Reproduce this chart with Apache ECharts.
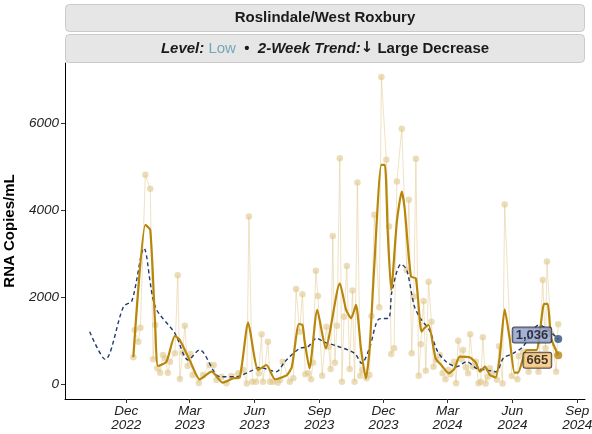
<!DOCTYPE html>
<html>
<head>
<meta charset="utf-8">
<script src="https://cdn.jsdelivr.net/npm/echarts@6/dist/echarts.min.js"></script>
<style>html,body{margin:0;padding:0;background:#fff}#c{width:592px;height:434px}</style>
</head>
<body>
<div id="c"></div>
<script>
// ---- data ----
const rawDates = ['2022-12-11','2022-12-13','2022-12-18','2022-12-21','2022-12-28','2023-01-04','2023-01-08','2023-01-11','2023-01-14','2023-01-18','2023-01-22','2023-01-25','2023-01-29','2023-02-01','2023-02-08','2023-02-12','2023-02-15','2023-02-19','2023-02-22','2023-02-26','2023-03-02','2023-03-05','2023-03-14','2023-03-20','2023-03-29','2023-04-04','2023-04-08','2023-04-15','2023-04-22','2023-04-29','2023-05-09','2023-05-16','2023-05-21','2023-05-24','2023-05-29','2023-06-03','2023-06-07','2023-06-11','2023-06-13','2023-06-20','2023-06-23','2023-06-27','2023-07-04','2023-07-07','2023-07-11','2023-07-21','2023-07-26','2023-07-30','2023-08-04','2023-08-08','2023-08-12','2023-08-16','2023-08-20','2023-08-23','2023-08-27','2023-08-30','2023-09-05','2023-09-11','2023-09-14','2023-09-17','2023-09-20','2023-09-23','2023-09-26','2023-09-30','2023-10-03','2023-10-06','2023-10-10','2023-10-14','2023-10-18','2023-10-21','2023-10-25','2023-10-29','2023-11-01','2023-11-07','2023-11-11','2023-11-14','2023-11-18','2023-11-25','2023-11-28','2023-12-05','2023-12-09','2023-12-12','2023-12-16','2023-12-20','2023-12-27','2024-01-03','2024-01-06','2024-01-10','2024-01-13','2024-01-16','2024-01-20','2024-01-23','2024-01-27','2024-01-30','2024-02-03','2024-02-07','2024-02-10','2024-02-14','2024-02-19','2024-02-23','2024-02-27','2024-03-02','2024-03-05','2024-03-10','2024-03-13','2024-03-16','2024-03-20','2024-03-23','2024-03-27','2024-03-30','2024-04-02','2024-04-06','2024-04-10','2024-04-14','2024-04-17','2024-04-20','2024-04-24','2024-04-27','2024-04-30','2024-05-04','2024-05-10','2024-05-13','2024-05-18','2024-05-21','2024-05-31','2024-06-08','2024-06-10','2024-06-16','2024-06-24','2024-06-30','2024-07-08','2024-07-14','2024-07-18','2024-07-20','2024-07-26','2024-08-02','2024-08-05'];
const rawValues = [615,1244,975,1297,4815,4493,569,1359,361,261,668,592,261,514,707,2504,115,721,1343,415,691,207,25,207,438,438,92,168,20,184,246,322,10,3855,53,53,246,1145,53,975,53,53,30,92,514,53,131,2189,1205,2067,223,246,108,491,2610,2027,192,1320,860,345,3410,491,1343,5200,53,1551,2719,345,2150,53,4638,192,322,131,207,1567,3894,1767,7066,5161,3624,691,822,4661,5875,2627,4240,707,2011,5184,192,914,1912,307,2357,1436,399,553,668,246,108,322,223,514,20,998,569,783,384,246,1145,399,514,15,53,1076,10,168,361,246,100,870,10,4130,184,108,645,745,284,668,284,2396,822,2818,1152,284,1375];

const trendDates = ['2022-12-11','2022-12-28','2023-01-04','2023-01-11','2023-01-15','2023-01-27','2023-02-08','2023-02-15','2023-03-02','2023-03-15','2023-04-01','2023-04-17','2023-05-02','2023-05-11','2023-05-23','2023-06-06','2023-06-18','2023-06-30','2023-07-17','2023-07-24','2023-08-03','2023-08-08','2023-08-11','2023-08-18','2023-08-29','2023-09-10','2023-09-30','2023-10-09','2023-10-16','2023-10-23','2023-10-30','2023-11-06','2023-11-11','2023-11-18','2023-11-28','2023-12-03','2023-12-07','2023-12-12','2023-12-20','2023-12-27','2023-12-31','2024-01-09','2024-01-16','2024-01-24','2024-01-28','2024-02-03','2024-02-13','2024-02-21','2024-03-03','2024-03-11','2024-03-18','2024-04-01','2024-04-10','2024-04-16','2024-04-23','2024-04-30','2024-05-08','2024-05-14','2024-05-21','2024-05-28','2024-06-04','2024-06-09','2024-06-21','2024-07-05','2024-07-16','2024-07-21','2024-07-26','2024-08-05'];
const trendValues = [615,3663,3548,1350,415,514,1106,1014,514,108,284,30,131,154,1412,322,438,108,207,399,1382,1359,1000,361,1705,822,2320,1705,1513,1820,822,131,745,2742,5046,5046,3509,2166,3740,4431,4048,2472,2434,1205,1283,1359,592,438,246,361,629,615,491,284,399,207,154,629,1720,1053,261,261,783,783,1843,1843,1053,665];

const regionDates = ['2022-10-10','2022-11-01','2022-11-27','2022-12-09','2022-12-26','2023-01-11','2023-02-08','2023-02-27','2023-03-15','2023-04-13','2023-05-06','2023-05-25','2023-06-08','2023-07-02','2023-07-14','2023-08-04','2023-08-16','2023-08-28','2023-09-09','2023-09-25','2023-10-21','2023-10-31','2023-11-11','2023-11-25','2023-12-08','2023-12-13','2023-12-26','2024-01-03','2024-01-14','2024-01-24','2024-02-04','2024-02-16','2024-02-28','2024-03-14','2024-03-28','2024-04-11','2024-04-25','2024-05-09','2024-05-19','2024-06-02','2024-06-16','2024-07-09','2024-08-05'];
const regionValues = [1205,569,1781,1919,3126,1781,1168,553,783,168,168,284,380,284,514,822,860,1053,960,880,707,477,822,1500,1513,2127,2760,2627,1781,1475,1244,745,514,399,514,361,322,284,592,707,860,1359,1036];

const xTickDates = ['2022-12-01','2023-03-01','2023-06-01','2023-09-01','2023-12-01','2024-03-01','2024-06-01','2024-09-01'];
const xTickLabels = ['Dec\n2022','Mar\n2023','Jun\n2023','Sep\n2023','Dec\n2023','Mar\n2024','Jun\n2024','Sep\n2024'];
const yTicks = [0, 2000, 4000, 6000];

const titleText = 'Roslindale/West Roxbury';
const levelText = 'Low';
const trendText = 'Large Decrease';

// ---- helpers ----
function ts(s) { const p = s.split('-').map(Number); return Date.UTC(p[0], p[1] - 1, p[2]); }
function pairs(d, v) { return d.map((x, i) => [ts(x), v[i]]); }
function fmt(n) { return String(n).replace(/\B(?=(\d{3})+(?!\d))/g, ','); }

const xTickTimes = xTickDates.map(ts);
const FONT = '"Liberation Sans", Arial, Helvetica, sans-serif';

const rawData = pairs(rawDates, rawValues);
const trendData = pairs(trendDates, trendValues);
const regionData = pairs(regionDates, regionValues);
const trendLast = trendData[trendData.length - 1];
const regionLast = regionData[regionData.length - 1];

const chart = echarts.init(document.getElementById('c'), null, { renderer: 'canvas' });

const labelBase = {
  show: true, position: 'left', distance: 3,
  fontFamily: FONT, fontSize: 13, fontWeight: 'bold', color: '#111',
  borderColor: '#222', borderWidth: 1, borderRadius: 2, padding: [1, 3, 0, 3], lineHeight: 14
};

chart.setOption({
  animation: false,
  backgroundColor: '#ffffff',
  grid: { left: 65, right: 7, top: 63, bottom: 35, containLabel: false, outerBoundsMode: 'none' },
  graphic: [
    { type: 'rect', shape: { x: 65.5, y: 4.5, width: 519, height: 27, r: 4 }, style: { fill: '#e6e6e6', stroke: '#cacaca', lineWidth: 1 } },
    { type: 'rect', shape: { x: 65.5, y: 34.5, width: 519, height: 28, r: 4 }, style: { fill: '#e6e6e6', stroke: '#cacaca', lineWidth: 1 } },
    { type: 'text', x: 325, y: 18, style: { text: titleText, font: 'bold 15px ' + FONT, fill: '#1a1a1a', textAlign: 'center', textVerticalAlign: 'middle', align: 'center', verticalAlign: 'middle' } },
    { type: 'text', x: 325, y: 48.5, style: {
        text: '{bi|Level:} {low|' + levelText + '}  {b|\u2022}  {bi|2-Week Trend:}{ar|\u2193}{b| ' + trendText + '}',
        textAlign: 'center', textVerticalAlign: 'middle', align: 'center', verticalAlign: 'middle',
        font: 'bold 15px ' + FONT,
        rich: {
          bi: { fontFamily: FONT, fontSize: 15, fontWeight: 'bold', fontStyle: 'italic', fill: '#1a1a1a' },
          b: { fontFamily: FONT, fontSize: 15, fontWeight: 'bold', fill: '#1a1a1a' },
          ar: { fontFamily: '"DejaVu Sans"', fontSize: 15, fontWeight: 'bold', fill: '#1a1a1a' },
          low: { fontFamily: FONT, fontSize: 15, fontWeight: 'normal', fill: '#72a9b9' }
        }
      } }
  ],
  xAxis: {
    type: 'value',
    min: ts('2022-09-05'), max: ts('2024-09-12'),
    axisLine: { show: true, onZero: false, lineStyle: { color: '#000', width: 1 } },
    axisTick: { show: true, length: 4, customValues: xTickTimes, lineStyle: { color: '#333' } },
    axisLabel: {
      customValues: xTickTimes, fontFamily: FONT, fontSize: 13.5, fontStyle: 'italic', color: '#222',
      lineHeight: 14, margin: 5, showMinLabel: true, showMaxLabel: true,
      formatter: function (v) { const i = xTickTimes.indexOf(v); return i >= 0 ? xTickLabels[i] : ''; }
    },
    splitLine: { show: false }
  },
  yAxis: {
    type: 'value', min: -345, max: 7390,
    name: 'RNA Copies/mL', nameLocation: 'middle', nameGap: 48,
    nameTextStyle: { fontFamily: FONT, fontSize: 15, fontWeight: 'bold', color: '#000' },
    axisLine: { show: true, onZero: false, lineStyle: { color: '#000', width: 1 } },
    axisTick: { show: true, length: 4, customValues: yTicks, lineStyle: { color: '#333' } },
    axisLabel: { customValues: yTicks, fontFamily: FONT, fontSize: 13.5, fontStyle: 'italic', color: '#222', margin: 6,
      formatter: v => String(v) },
    splitLine: { show: false }
  },
  series: [
    {
      type: 'line', name: 'raw', data: rawData, z: 1,
      symbol: 'circle', symbolSize: 6.5, showSymbol: true,
      itemStyle: { color: 'rgba(224,198,138,0.6)' },
      lineStyle: { color: 'rgba(224,198,138,0.5)', width: 1 },
      emphasis: { disabled: true }
    },
    {
      type: 'line', name: 'region', data: regionData, z: 2, smooth: 0.3,
      showSymbol: false, symbol: 'none',
      lineStyle: { color: '#1f3b6d', width: 1.4, type: [4, 3] },
      emphasis: { disabled: true }
    },
    {
      type: 'line', name: 'trend', data: trendData, z: 3, smooth: 0.2,
      showSymbol: false, symbol: 'none',
      lineStyle: { color: '#b8860b', width: 2.2 },
      emphasis: { disabled: true }
    },
    {
      type: 'scatter', name: 'regionEnd', z: 5, symbolSize: 8,
      data: [regionLast],
      itemStyle: { color: '#2e4d80' },
      label: Object.assign({}, labelBase, { backgroundColor: '#8d9ecf', offset: [0, -4], formatter: p => fmt(p.value[1]) }),
      emphasis: { disabled: true }
    },
    {
      type: 'scatter', name: 'trendEnd', z: 5, symbolSize: 8,
      data: [trendLast],
      itemStyle: { color: '#b8860b' },
      label: Object.assign({}, labelBase, { backgroundColor: '#f7c477', offset: [0, 5], formatter: p => fmt(p.value[1]) }),
      emphasis: { disabled: true }
    }
  ]
});
</script>
</body>
</html>
